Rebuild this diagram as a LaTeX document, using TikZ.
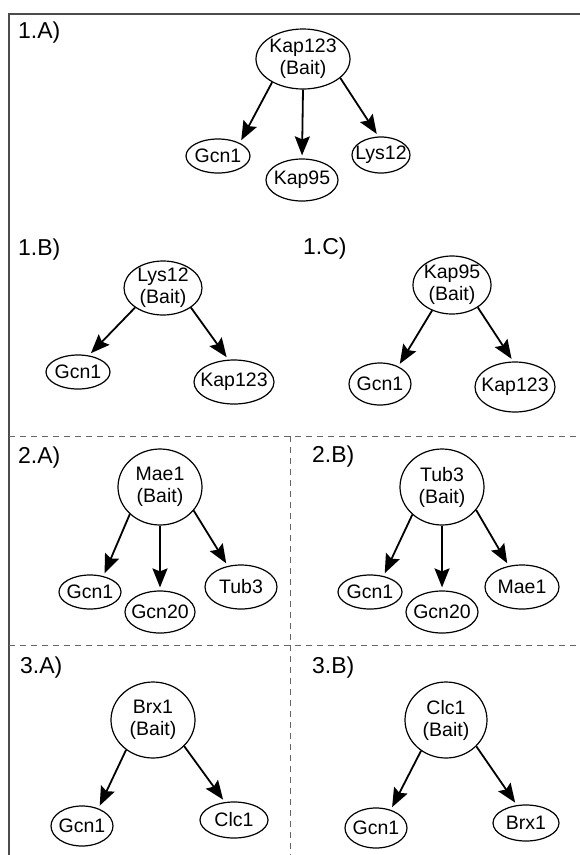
\documentclass[tikz,border=0pt]{standalone}
\usepackage{fontspec}
\setmainfont{Liberation Sans}
\usetikzlibrary{shapes.geometric,arrows.meta}
\begin{document}
\begin{tikzpicture}[x=1pt,y=-1pt,
  ell/.style 2 args={draw, ellipse, inner sep=-6pt, minimum width=#1pt, minimum height=#2pt, line width=1.2pt, align=center, font=\fontsize{19.5}{22}\selectfont},
  arr/.style={line width=1.8pt, -{Stealth[length=19pt,width=15pt,inset=3pt]}, shorten >=3pt},
  lab/.style={anchor=base west, inner sep=0pt, font=\fontsize{23}{25}\selectfont},
  framel/.style={draw=black!70, line width=1.4pt},
  sepl/.style={draw=black!60, line width=1pt, dash pattern=on 6pt off 5pt}]
\useasboundingbox (0,0) rectangle (580,855);
% frame and separators
\coordinate (tl) at (9,14);
\coordinate (tr) at (580,14);
\coordinate (bl) at (9,855);
\draw[framel] (tr) -- (tl) -- (bl);
\coordinate (h1l) at (9,436); \coordinate (h1r) at (580,436);
\coordinate (h2l) at (9,645); \coordinate (h2r) at (580,645);
\coordinate (vt) at (290,436); \coordinate (vb) at (290,855);
\draw[sepl] (h1l) -- (h1r);
\draw[sepl] (h2l) -- (h2r);
\draw[sepl] (vt) -- (vb);
% labels
\node[lab] (l1a) at (18,38) {1.A)};
\node[lab] (l1b) at (18,255) {1.B)};
\node[lab] (l1c) at (303,254) {1.C)};
\node[lab] (l2a) at (18,463) {2.A)};
\node[lab] (l2b) at (312,462) {2.B)};
\node[lab] (l3a) at (20,673) {3.A)};
\node[lab] (l3b) at (312,673) {3.B)};
% 1.A
\node[ell={94}{60}] (aK) at (303,59) {Kap123\\(Bait)};
\node[ell={64}{34}] (aG) at (218,156) {Gcn1};
\node[ell={72}{42}] (aK95) at (302,180) {Kap95};
\node[ell={58}{36}] (aL) at (381,155) {Lys12};
\draw[arr] (aK.217) -- (aG.31);
\draw[arr] (aK.270) -- (aK95.90);
\draw[arr] (aK.333) -- (aL.98);
% 1.B
\node[ell={78}{54}] (bL) at (163,288) {Lys12\\(Bait)};
\node[ell={64}{34}] (bG) at (78,372) {Gcn1};
\node[ell={80}{44}] (bK) at (234,382) {Kap123};
\draw[arr] (bL.215) -- (bG.57);
\draw[arr] (bL.325) -- (bK.104);
% 1.C
\node[ell={78}{58}] (cK) at (452,285) {Kap95\\(Bait)};
\node[ell={62}{42}] (cG) at (380,384) {Gcn1};
\node[ell={80}{50}] (cK1) at (515,387) {Kap123};
\draw[arr] (cK.232) -- (cG.44);
\draw[arr] (cK.319) -- (cK1.94);
% 2.A
\node[ell={84}{76}] (dM) at (160,487) {Mae1\\(Bait)};
\node[ell={62}{34}] (dG) at (90,592) {Gcn1};
\node[ell={70}{42}] (dG20) at (160,612) {Gcn20};
\node[ell={72}{44}] (dT) at (241,587) {Tub3};
\draw[arr] (dM.222) -- (dG.50);
\draw[arr] (dM.270) -- (dG20.90);
\draw[arr] (dM.325) -- (dT.122);
% 2.B
\node[ell={84}{76}] (eT) at (442,487) {Tub3\\(Bait)};
\node[ell={64}{34}] (eG) at (370,592) {Gcn1};
\node[ell={72}{42}] (eG20) at (442,612) {Gcn20};
\node[ell={74}{44}] (eM) at (522,587) {Mae1};
\draw[arr] (eT.223) -- (eG.50);
\draw[arr] (eT.270) -- (eG20.90);
\draw[arr] (eT.326) -- (eM.122);
% 3.A
\node[ell={84}{76}] (fB) at (153,720) {Brx1\\(Bait)};
\node[ell={62}{40}] (fG) at (82,826) {Gcn1};
\node[ell={68}{36}] (fC) at (234,820) {Clc1};
\draw[arr] (fB.228) -- (fG.47);
\draw[arr] (fB.320) -- (fC.117);
% 3.B
\node[ell={82}{76}] (gC) at (446,720) {Clc1\\(Bait)};
\node[ell={62}{40}] (gG) at (376,828) {Gcn1};
\node[ell={66}{36}] (gB) at (526,823) {Brx1};
\draw[arr] (gC.231) -- (gG.51);
\draw[arr] (gC.319) -- (gB.117);
\end{tikzpicture}
\end{document}
